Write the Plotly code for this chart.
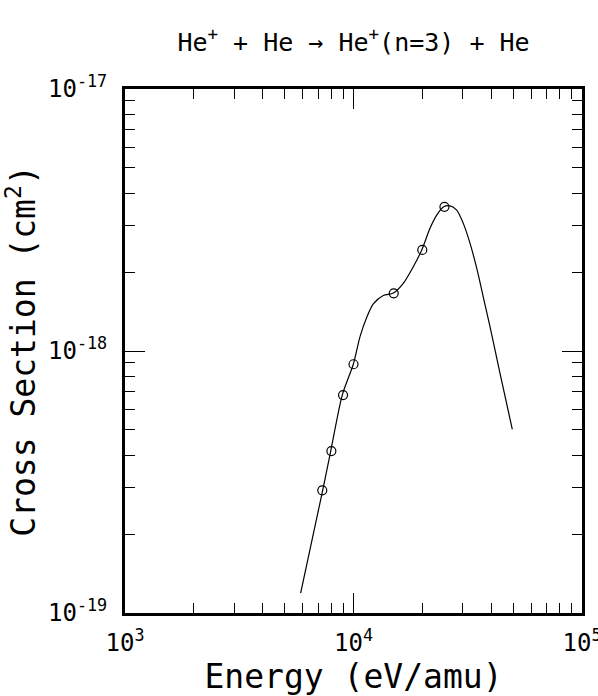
import plotly.graph_objects as go

# Measured data points (open circles)
data_energy = [7300, 8000, 9000, 10000, 15000, 20000, 25000]
data_sigma = [2.94e-19, 4.15e-19, 6.79e-19, 8.9e-19, 1.66e-18, 2.43e-18, 3.55e-18]

# Fitted curve
fit_energy = [5870, 7330, 7950, 8930, 9980, 10680, 11420, 12210, 13500, 14940,
              16520, 18270, 19890, 21620, 23130, 24820, 26440, 28290, 30230,
              32340, 34610, 36980, 39570, 43770, 49550]
fit_sigma = [1.19e-19, 2.94e-19, 4.15e-19, 6.79e-19, 8.9e-19, 1.134e-18, 1.342e-18,
             1.512e-18, 1.628e-18, 1.665e-18, 1.813e-18, 2.098e-18, 2.43e-18,
             2.94e-18, 3.30e-18, 3.55e-18, 3.58e-18, 3.45e-18, 3.07e-18, 2.58e-18,
             2.07e-18, 1.607e-18, 1.238e-18, 8.22e-19, 5.02e-19]

x_tickvals = [1e3, 1e4, 1e5]
x_ticktext = ["10<sup>3</sup>", "10<sup>4</sup>", "10<sup>5</sup>"]
y_tickvals = [1e-19, 1e-18, 1e-17]
y_ticktext = ["10<sup>-19</sup>", "10<sup>-18</sup>", "10<sup>-17</sup>"]

FONT = "DejaVu Sans Mono"

fig = go.Figure()
fig.add_trace(go.Scatter(x=fit_energy, y=fit_sigma, mode="lines",
                         line=dict(color="black", width=1.2, shape="spline", smoothing=0.8),
                         hoverinfo="skip", showlegend=False))
fig.add_trace(go.Scatter(x=data_energy, y=data_sigma, mode="markers",
                         marker=dict(symbol="circle-open", size=9, color="black",
                                     line=dict(width=1.2)),
                         showlegend=False))

axis_common = dict(
    type="log", showgrid=False, zeroline=False, automargin=False,
    showline=True, linecolor="black", linewidth=3, mirror="allticks",
    ticks="inside", ticklen=20, tickwidth=1.3, tickcolor="black",
    minor=dict(ticks="inside", ticklen=10, tickwidth=1.3, tickcolor="black",
               dtick="D1", showgrid=False),
    tickfont=dict(family=FONT, size=24, color="black"),
    ticklabeloverflow="allow",
)

fig.update_xaxes(range=[3, 5], tickmode="array", tickvals=x_tickvals, ticktext=x_ticktext,
                 title=dict(text="Energy (eV/amu)", font=dict(family=FONT, size=33, color="black"),
                            standoff=12),
                 ticklabelstandoff=6,
                 **axis_common)
fig.update_yaxes(range=[-19, -17], tickmode="array", tickvals=y_tickvals, ticktext=y_ticktext,
                 title=dict(text="Cross Section (cm<sup>2</sup>)",
                            font=dict(family=FONT, size=33, color="black"), standoff=12),
                 ticklabelstandoff=10,
                 **axis_common)

fig.update_layout(
    width=598, height=696,
    margin=dict(l=125, r=16, t=89, b=83, autoexpand=False),
    paper_bgcolor="white", plot_bgcolor="white",
    title=dict(text="He<sup>+</sup> + He → He<sup>+</sup>(n=3) + He",
               font=dict(family=FONT, size=25, color="black"),
               x=0.5, xref="paper", xanchor="center",
               y=1 - 42 / 696, yref="container", yanchor="middle", automargin=False),
)

fig.write_html("out.html", config={"displayModeBar": False},
               post_script="document.body.style.margin='0';document.body.style.overflow='hidden';")
